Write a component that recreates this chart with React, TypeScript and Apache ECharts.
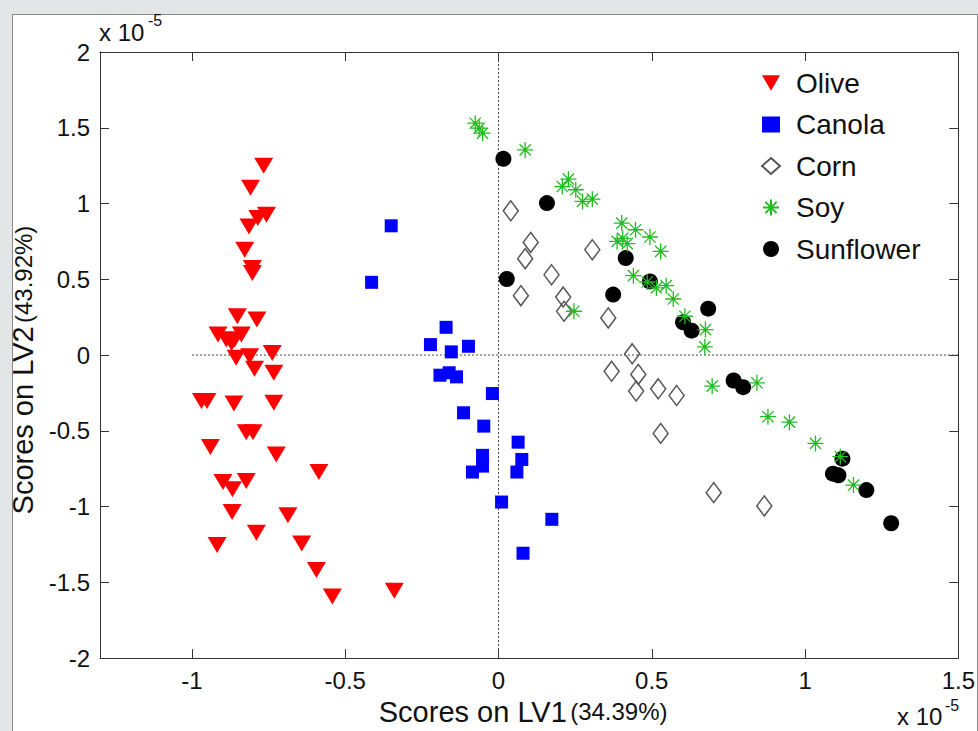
import React, { useEffect, useRef } from "react";
import * as echarts from "echarts";

const FONT = 'Arial, "Liberation Sans", Helvetica, sans-serif';

const seriesNames = ["Olive", "Canola", "Corn", "Soy", "Sunflower"];
const xTicks = [-1, -0.5, 0, 0.5, 1, 1.5];
const xTitle = "Scores on LV1";
const xTitlePct = "(34.39%)";
const yTitle = "Scores on LV2";
const yTitlePct = "(43.92%)";

const olive = [
  [-0.766, 1.249], [-0.809, 1.104], [-0.757, 0.926], [-0.785, 0.904], [-0.814, 0.849],
  [-0.828, 0.695], [-0.803, 0.575], [-0.803, 0.542], [-0.852, 0.256], [-0.788, 0.234],
  [-0.915, 0.135], [-0.888, 0.102], [-0.871, 0.08], [-0.839, 0.135], [-0.861, 0.102],
  [-0.856, -0.018], [-0.812, -0.008], [-0.738, 0.014], [-0.796, -0.091], [-0.733, -0.117],
  [-0.969, -0.304], [-0.951, -0.304], [-0.863, -0.32], [-0.733, -0.315], [-0.823, -0.509],
  [-0.801, -0.509], [-0.94, -0.607], [-0.725, -0.656], [-0.586, -0.772], [-0.899, -0.838],
  [-0.868, -0.886], [-0.823, -0.831], [-0.869, -1.036], [-0.687, -1.058], [-0.79, -1.172],
  [-0.918, -1.253], [-0.642, -1.244], [-0.594, -1.418], [-0.542, -1.594], [-0.34, -1.556],
];

const canola = [
  [-0.35, 0.853], [-0.414, 0.48], [-0.171, 0.183], [-0.222, 0.069], [-0.154, 0.021],
  [-0.098, 0.058], [-0.191, -0.133], [-0.161, -0.117], [-0.137, -0.144], [-0.02, -0.254],
  [-0.114, -0.381], [-0.048, -0.469], [0.064, -0.575], [0.076, -0.689], [-0.052, -0.662],
  [-0.052, -0.733], [-0.085, -0.772], [0.06, -0.772], [0.01, -0.97], [0.174, -1.084],
  [0.08, -1.308],
];

const corn = [
  [0.04, 0.952], [0.105, 0.743], [0.087, 0.636], [0.073, 0.392], [0.173, 0.53],
  [0.211, 0.383], [0.214, 0.289], [0.306, 0.695], [0.358, 0.245], [0.436, 0.008],
  [0.369, -0.107], [0.456, -0.128], [0.449, -0.238], [0.521, -0.223], [0.581, -0.267],
  [0.529, -0.517], [0.702, -0.908], [0.867, -0.996],
];

const soy = [
  [-0.076, 1.53], [-0.063, 1.497], [-0.052, 1.464], [0.087, 1.354], [0.228, 1.161],
  [0.208, 1.112], [0.252, 1.091], [0.274, 1.014], [0.306, 1.029], [0.402, 0.871],
  [0.447, 0.827], [0.494, 0.779], [0.529, 0.684], [0.387, 0.75], [0.42, 0.735],
  [0.405, 0.77], [0.44, 0.524], [0.485, 0.482], [0.515, 0.443], [0.547, 0.458],
  [0.57, 0.37], [0.608, 0.256], [0.675, 0.168], [0.673, 0.054], [0.246, 0.289],
  [0.697, -0.205], [0.843, -0.183], [0.879, -0.407], [0.949, -0.443], [1.034, -0.583],
  [1.115, -0.671], [1.158, -0.858],
];

const sunflower = [
  [0.016, 1.295], [0.158, 1.003], [0.027, 0.502], [0.415, 0.64], [0.374, 0.399],
  [0.494, 0.486], [0.684, 0.306], [0.602, 0.216], [0.63, 0.161], [0.767, -0.168],
  [0.798, -0.212], [1.122, -0.684], [1.091, -0.783], [1.109, -0.794], [1.2, -0.891],
  [1.281, -1.11],
];

const zeroV = [[0, -2], [0, 2]];
const zeroH = [[-1, 0], [1.5, 0]];

const TRI_DOWN = "path://M0,0L20,0L10,17Z";
const ASTERISK = "path://M10,0L10,20M0,10L20,10M3,3L17,17M3,17L17,3";

export default function App() {
  const ref = useRef<HTMLDivElement>(null);

  useEffect(() => {
    if (!ref.current) return;
    const chart = echarts.init(ref.current, undefined, { renderer: "svg" });
    const axisColor = "#333";
    const labelStyle = { fontFamily: FONT, fontSize: 24, color: "#111" };
    const commonX = {
      type: "value",
      min: -1.3,
      max: 1.5,
      splitLine: { show: false },
      axisLine: { show: true, onZero: false, lineStyle: { color: axisColor, width: 1 } },
      axisTick: { show: true, inside: true, length: 9, customValues: xTicks, lineStyle: { color: axisColor } },
    };
    const commonY = {
      type: "value",
      min: -2,
      max: 2,
      interval: 0.5,
      splitLine: { show: false },
      axisLine: { show: true, onZero: false, lineStyle: { color: axisColor, width: 1 } },
      axisTick: { show: true, inside: true, length: 9, lineStyle: { color: axisColor } },
    };
    const titleRich = {
      a: { fontFamily: FONT, fontSize: 29, color: "#111" },
      b: { fontFamily: FONT, fontSize: 24, color: "#111" },
    };
    const option: any = {
      animation: false,
      backgroundColor: "transparent",
      textStyle: { fontFamily: FONT },
      grid: { left: 100, right: 18, top: 52, bottom: 72, containLabel: false },
      xAxis: [
        {
          ...commonX,
          position: "bottom",
          axisLabel: { ...labelStyle, margin: 10, customValues: xTicks },
          name: `{a|${xTitle}} {b|${xTitlePct}}`,
          nameLocation: "middle",
          nameGap: 37,
          nameTextStyle: { fontFamily: FONT, color: "#111", padding: [0, 12, 0, 0], rich: titleRich },
        },
        { ...commonX, position: "top", axisLabel: { show: false } },
      ],
      yAxis: [
        {
          ...commonY,
          position: "left",
          axisLabel: { ...labelStyle, margin: 10 },
          name: `{a|${yTitle}} {b|${yTitlePct}}`,
          nameLocation: "middle",
          nameGap: 60,
          nameTextStyle: { fontFamily: FONT, color: "#111", padding: [0, 30, 0, 0], rich: titleRich },
        },
        { ...commonY, position: "right", axisLabel: { show: false } },
      ],
      legend: {
        data: seriesNames,
        orient: "vertical",
        left: 756,
        top: 64,
        itemGap: 13.5,
        itemWidth: 18,
        itemHeight: 16,
        textStyle: { fontFamily: FONT, fontSize: 28, color: "#111", lineHeight: 28, padding: [0, 0, 0, 11] },
      },
      graphic: [
        { type: "text", left: 99, top: 20, style: { text: "x 10", font: `24px ${FONT}`, fill: "#111" } },
        { type: "text", left: 148, top: 12, style: { text: "-5", font: `16px ${FONT}`, fill: "#111" } },
        { type: "text", left: 897, top: 704, style: { text: "x 10", font: `24px ${FONT}`, fill: "#111" } },
        { type: "text", left: 945, top: 697, style: { text: "-5", font: `16px ${FONT}`, fill: "#111" } },
      ],
      series: [
        {
          name: "zeroV",
          type: "line",
          data: zeroV,
          symbol: "none",
          silent: true,
          lineStyle: { type: [2, 2], color: "#444", width: 1 },
          z: 1,
        },
        {
          name: "zeroH",
          type: "line",
          data: zeroH,
          symbol: "none",
          silent: true,
          lineStyle: { type: [2, 2], color: "#444", width: 1 },
          z: 1,
        },
        {
          name: "Olive",
          type: "scatter",
          data: olive,
          symbol: TRI_DOWN,
          symbolSize: [19, 16],
          itemStyle: { color: "#ff0000", opacity: 1 },
          z: 2,
        },
        {
          name: "Canola",
          type: "scatter",
          data: canola,
          symbol: "rect",
          symbolSize: 13,
          itemStyle: { color: "#0000ff", opacity: 1 },
          z: 2,
        },
        {
          name: "Corn",
          type: "scatter",
          data: corn,
          symbol: "diamond",
          symbolSize: [15, 20],
          itemStyle: { color: "rgba(255,255,255,0)", borderColor: "#555", borderWidth: 1.5, opacity: 1 },
          z: 2,
        },
        {
          name: "Sunflower",
          type: "scatter",
          data: sunflower,
          symbol: "circle",
          symbolSize: 16,
          itemStyle: { color: "#000000", opacity: 1 },
          z: 2,
        },
        {
          name: "Soy",
          type: "scatter",
          data: soy,
          symbol: ASTERISK,
          symbolSize: 16,
          itemStyle: { color: "#22bb22", borderColor: "#22bb22", borderWidth: 1.3, opacity: 1 },
          z: 3,
        },
      ],
    };
    chart.setOption(option);
    return () => chart.dispose();
  }, []);

  return (
    <div
      style={{
        position: "fixed",
        left: 0,
        top: 0,
        width: 978,
        height: 731,
        background: "#e3e6e6",
        overflow: "hidden",
      }}
    >
      <div
        style={{
          position: "absolute",
          left: 12,
          top: 14,
          width: 966,
          height: 740,
          background: "#ffffff",
          border: "1px solid #8a8a8a",
          boxSizing: "border-box",
        }}
      />
      <div ref={ref} style={{ position: "absolute", left: 0, top: 0, width: 978, height: 731 }} />
    </div>
  );
}
